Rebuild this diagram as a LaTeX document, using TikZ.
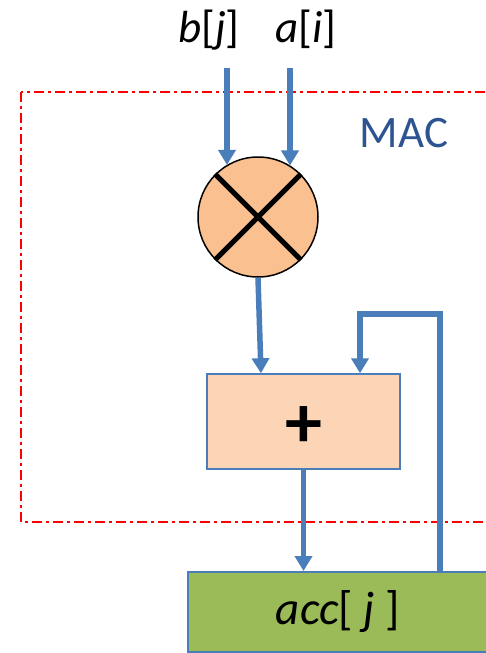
\documentclass[tikz,border=0pt]{standalone}
\usepackage{fontspec}
\setmainfont{Carlito}
\usetikzlibrary{arrows.meta,calc}
\definecolor{lineblue}{RGB}{74,126,187}
\definecolor{macblue}{RGB}{44,84,145}
\definecolor{peach}{RGB}{250,192,144}
\definecolor{lightpeach}{RGB}{251,213,181}
\definecolor{accgreen}{RGB}{155,187,89}
\tikzset{
  arr/.style={draw=lineblue, line width=5.5pt, -{Triangle[width=17pt,length=15pt]}},
  macframe/.style={draw=red, line width=2pt, dash pattern=on 10pt off 4pt on 3pt off 4pt},
  bigtext/.style={font=\fontsize{45}{50}\selectfont, inner sep=0pt},
  multnode/.style={circle, draw=black, line width=1.5pt, fill=peach, minimum size=120pt, inner sep=0pt},
  addnode/.style={rectangle, draw=lineblue, line width=1.5pt, fill=lightpeach, minimum width=193pt, minimum height=95pt, inner sep=0pt},
  plustext/.style={font=\bfseries\fontsize{74}{80}\selectfont, inner sep=0pt},
  accnode/.style={rectangle, draw=lineblue, line width=2pt, fill=accgreen, minimum width=300pt, minimum height=80pt, inner sep=0pt, font=\fontsize{47}{52}\selectfont},
  crossline/.style={draw=black, line width=5pt}
}
\begin{document}
\begin{tikzpicture}[x=1pt,y=-1pt]
\useasboundingbox (0,0) rectangle (486,653);
\clip (0,0) rectangle (486,653);
\fill[white] (0,0) rectangle (486,653);
% MAC frame
\draw[macframe] (21,92) rectangle (495,522);
\node[bigtext, text=macblue, anchor=base] (mac) at (404,147) {MAC};
% labels
\node[bigtext, anchor=base] (bj) at (209,42) {\textit{b}[\textit{j}]};
\node[bigtext, anchor=base] (ai) at (306,42) {\textit{a}[\textit{i}]};
\coordinate (bjs) at (227,68);
\coordinate (ais) at (290,68);
% nodes
\node[multnode] (mult) at (258,217) {};
\draw[crossline] (mult.135) -- (mult.-45);
\draw[crossline] (mult.45) -- (mult.-135);
\node[addnode] (add) at (303.5,421.5) {};
\node[plustext] (plus) at (303.5,427) {+};
\node[accnode] (acc) at (338,612) {\textit{acc}[ \textit{j} ]};
% connectors
\draw[arr] (bjs) -- (bjs |- mult.121);
\draw[arr] (ais) -- (ais |- mult.58);
\draw[arr] (mult.south) -- ([xshift=-42.5pt]add.north);
\coordinate (fb) at (360,314);
\draw[arr] ([xshift=102pt]acc.north) |- (fb) -- (fb |- add.north);
\draw[arr] (add.south) -- (add.south |- acc.north);
\end{tikzpicture}
\end{document}
